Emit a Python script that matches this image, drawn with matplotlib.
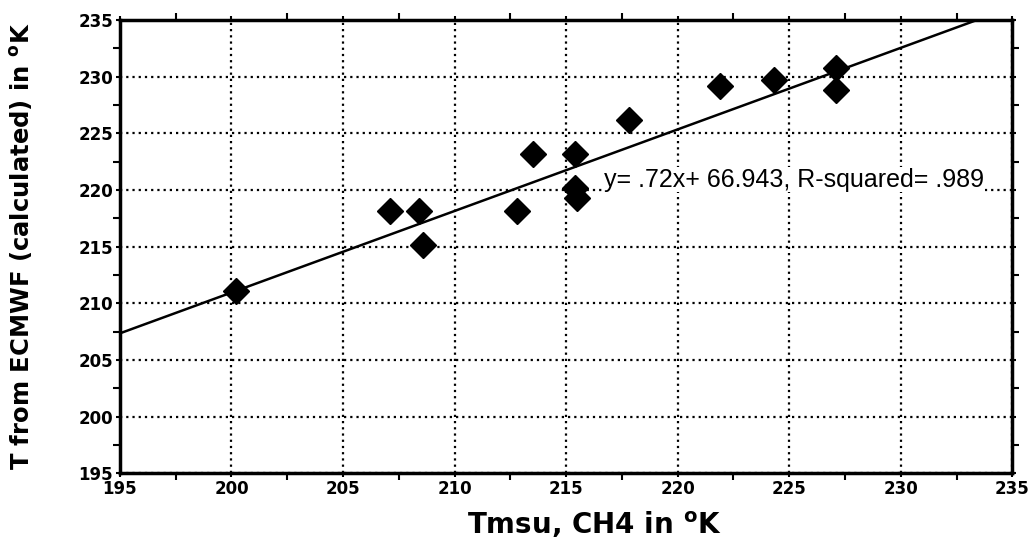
import matplotlib
matplotlib.use("Agg")
import matplotlib.pyplot as plt
import numpy as np
from matplotlib.ticker import MultipleLocator

# Data
tmsu = [200.2, 207.1, 208.4, 208.6, 212.8, 213.5, 215.4, 215.4, 215.5, 217.8, 221.9, 224.3, 227.1, 227.1]
t_ecmwf = [211.1, 218.1, 218.1, 215.1, 218.1, 223.2, 223.2, 220.2, 219.3, 226.2, 229.2, 229.7, 230.8, 228.8]
slope = 0.72
intercept = 66.943
fit_label = "y= .72x+ 66.943, R-squared= .989"
x_ticks = [195, 200, 205, 210, 215, 220, 225, 230, 235]
y_ticks = [195, 200, 205, 210, 215, 220, 225, 230, 235]

fig = plt.figure(figsize=(10.34, 5.56), dpi=100)
ax = fig.add_axes([0.116, 0.149, 0.863, 0.815])

ax.set_xlim(195, 235)
ax.set_ylim(195, 235)
ax.set_xticks(x_ticks)
ax.set_yticks(y_ticks)
ax.xaxis.set_minor_locator(MultipleLocator(2.5))
ax.yaxis.set_minor_locator(MultipleLocator(2.5))

ax.grid(True, which="major", color="black", linestyle=(0, (1, 1.8)), linewidth=1.6)
ax.set_axisbelow(True)

xl = np.array([195, 235])
ax.plot(xl, slope * xl + intercept, color="black", linewidth=1.8, zorder=3, clip_on=True)
ax.plot(tmsu, t_ecmwf, linestyle="none", marker="D", markersize=13.5,
        color="black", zorder=4)

ax.text(216.7, 220.9, fit_label, fontsize=18, family="Liberation Sans",
        va="center", ha="left", zorder=5,
        bbox=dict(facecolor="white", edgecolor="none", pad=0.3))

for s in ax.spines.values():
    s.set_linewidth(2.5)

ax.tick_params(which="both", top=True, right=True, direction="out", width=1.5)
ax.tick_params(which="major", length=3, labelsize=12, pad=2)
ax.tick_params(which="minor", length=5)
for lab in ax.get_xticklabels() + ax.get_yticklabels():
    lab.set_fontweight("bold")

ax.set_xlabel(r"Tmsu, CH4 in $^{\mathbf{o}}$K", fontsize=20, fontweight="bold")
ax.set_ylabel(r"T from ECMWF (calculated) in $^{\mathbf{o}}$K", fontsize=17.5, fontweight="bold")
ax.xaxis.set_label_coords(0.532, -0.08)
ax.yaxis.set_label_coords(-0.095, 0.5)

fig.savefig("out.png", dpi=100)
